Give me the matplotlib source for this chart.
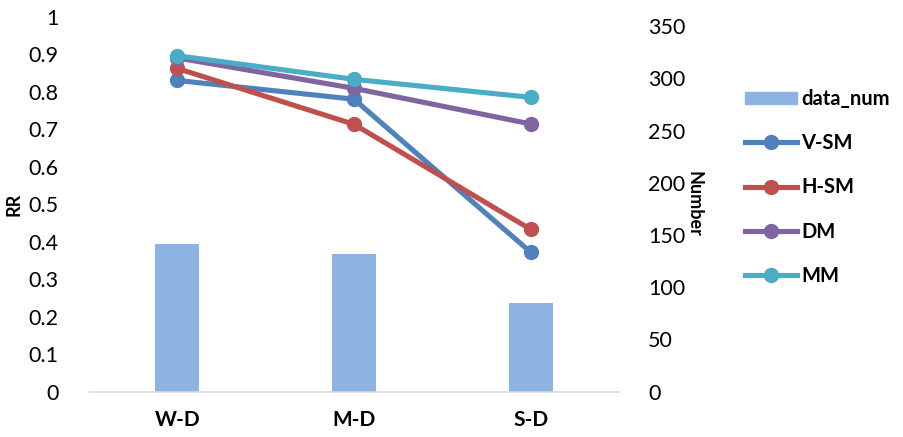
import matplotlib.pyplot as plt
from matplotlib.lines import Line2D
from matplotlib.patches import Patch
import numpy as np

categories = ["W-D", "M-D", "S-D"]
data_num = [141, 132, 85]
v_sm = [0.83, 0.78, 0.372]
h_sm = [0.862, 0.713, 0.433]
dm = [0.89, 0.809, 0.714]
mm = [0.896, 0.833, 0.785]

series = [("V-SM", v_sm, "#4F81BD"),
          ("H-SM", h_sm, "#C0504D"),
          ("DM", dm, "#8064A2"),
          ("MM", mm, "#4BACC6")]
bar_color = "#8DB3E2"

plt.rcParams['font.family'] = ['Lato', 'DejaVu Sans']

fig = plt.figure(figsize=(9.04, 4.37), dpi=100)
ax = fig.add_axes([89/904, 1-391.7/437, 530/904, 375/437])
ax2 = ax.twinx()

x = np.arange(len(categories))
ax2.bar(x, data_num, width=0.25, color=bar_color, zorder=1)

for name, vals, col in series:
    ax.plot(x, vals, color=col, lw=3.7, marker="o", ms=10, solid_capstyle="round")

ax.set_zorder(ax2.get_zorder() + 1)
ax.patch.set_visible(False)

ax.set_xlim(-0.5, 2.5)
ax.set_ylim(0, 1)
ax2.set_ylim(0, 359)
ax.set_yticks(np.arange(0, 1.01, 0.1))
ax.set_yticklabels(["0"] + ["%.1f" % v for v in np.arange(0.1, 0.95, 0.1)] + ["1"])
ax2.set_yticks(range(0, 351, 50))
ax.set_xticks(x)
ax.set_xticklabels(categories, fontweight="bold", fontsize=15)

for a in (ax, ax2):
    for s in a.spines.values():
        s.set_visible(False)
ax.spines["bottom"].set_visible(True)
ax.spines["bottom"].set_color("#D9D9D9")
ax.spines["bottom"].set_linewidth(1.2)

ax.tick_params(axis="y", length=0, pad=22, labelsize=15.5)
ax.tick_params(axis="x", length=0, pad=13)
ax2.tick_params(axis="y", length=0, pad=21, labelsize=15.5)

ax.set_ylabel("RR", fontweight="bold", fontsize=13, labelpad=4)
ax2.set_ylabel("Number", fontweight="bold", fontsize=13, rotation=-90, labelpad=12)

handles = [Patch(color=bar_color, label="data_num")]
for name, vals, col in series:
    handles.append(Line2D([0], [0], color=col, lw=3.7, marker="o", ms=10, label=name))
fig.legend(handles=handles, loc="upper left", bbox_to_anchor=(745/904, 1-89/437),
           frameon=False, handlelength=2.6, handleheight=0.6, handletextpad=0.2,
           labelspacing=1.2, borderaxespad=0, borderpad=0,
           prop={"weight": "bold", "size": 14.5})

fig.savefig("out.png", dpi=100)
